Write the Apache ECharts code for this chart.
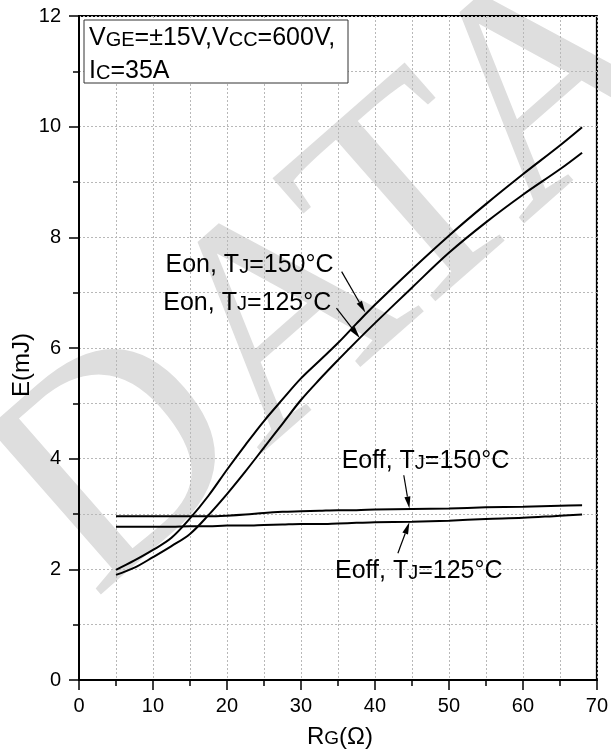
<!DOCTYPE html>
<html>
<head>
<meta charset="utf-8">
<script src="https://cdn.jsdelivr.net/npm/echarts@6/dist/echarts.min.js"></script>
<style>
  html, body { margin: 0; padding: 0; background: #fff; }
  #main { width: 611px; height: 752px; }
</style>
</head>
<body>
<div id="main"></div>
<script>
// Gate resistance RG (Ω)
const rg = [5, 7.5, 10, 12.5, 15, 17.5, 20, 22.5, 25, 27.5, 30, 32.5, 35, 37.5, 40, 45, 50, 55, 60, 65, 68];
// Switching energies (mJ)
const eon150 = [1.99, 2.16, 2.35, 2.57, 2.92, 3.33, 3.80, 4.25, 4.68, 5.07, 5.45, 5.77, 6.09, 6.44, 6.78, 7.42, 8.03, 8.60, 9.14, 9.66, 9.99];
const eon125 = [1.90, 2.03, 2.22, 2.42, 2.64, 2.98, 3.36, 3.77, 4.20, 4.63, 5.06, 5.43, 5.78, 6.12, 6.45, 7.09, 7.72, 8.27, 8.77, 9.23, 9.53];
const eoff150 = [2.96, 2.96, 2.96, 2.96, 2.96, 2.96, 2.97, 2.99, 3.02, 3.04, 3.05, 3.06, 3.07, 3.07, 3.08, 3.09, 3.10, 3.12, 3.13, 3.15, 3.16];
const eoff125 = [2.77, 2.77, 2.77, 2.77, 2.78, 2.78, 2.79, 2.79, 2.80, 2.81, 2.82, 2.82, 2.83, 2.84, 2.85, 2.86, 2.88, 2.91, 2.93, 2.97, 2.99];

// Axis ticks
const xTicks = [0, 10, 20, 30, 40, 50, 60, 70];
const yTicks = [0, 2, 4, 6, 8, 10, 12];

// Curve labels: [name, temperature]
const curveNames = ['Eon', 'Eon', 'Eoff', 'Eoff'];
const curveTemps = ['150', '125', '150', '125'];

const FONT = '"Liberation Sans", Arial, Helvetica, sans-serif';
const GRID_COLOR = '#b8b8b8';

const pairs = (ys) => rg.map((x, i) => [x, ys[i]]);

const chart = echarts.init(document.getElementById('main'), null, { renderer: 'canvas' });

const lineSeries = (name, ys) => ({
  name: name,
  type: 'line',
  data: pairs(ys),
  smooth: 0.35,
  symbol: 'none',
  lineStyle: { color: '#000', width: 2 },
  z: 5
});

chart.setOption({
  animation: false,
  backgroundColor: '#fff',
  grid: {
    left: 79, right: 11, top: 16, bottom: 72,
    show: true, borderColor: '#000', borderWidth: 2, backgroundColor: 'transparent'
  },
  xAxis: {
    type: 'value',
    min: xTicks[0], max: xTicks[xTicks.length - 1], interval: xTicks[1] - xTicks[0],
    axisLine: { lineStyle: { color: '#000', width: 2 } },
    axisTick: { length: 10, lineStyle: { color: '#000', width: 1.5 } },
    minorTick: { show: true, splitNumber: 2, length: 6, lineStyle: { color: '#000', width: 1.5 } },
    splitLine: { show: true, lineStyle: { color: GRID_COLOR, type: [2, 2], width: 1 } },
    minorSplitLine: { show: true, lineStyle: { color: GRID_COLOR, type: [2, 2], width: 1 } },
    axisLabel: { color: '#000', fontSize: 20, fontFamily: FONT, margin: 16 }
  },
  yAxis: {
    type: 'value',
    min: yTicks[0], max: yTicks[yTicks.length - 1], interval: yTicks[1] - yTicks[0],
    axisLine: { lineStyle: { color: '#000', width: 2 } },
    axisTick: { length: 10, lineStyle: { color: '#000', width: 1.5 } },
    minorTick: { show: true, splitNumber: 2, length: 6, lineStyle: { color: '#000', width: 1.5 } },
    splitLine: { show: true, lineStyle: { color: GRID_COLOR, type: [2, 2], width: 1 } },
    minorSplitLine: { show: true, lineStyle: { color: GRID_COLOR, type: [2, 2], width: 1 } },
    axisLabel: { color: '#000', fontSize: 20, fontFamily: FONT, margin: 18 }
  },
  series: [
    lineSeries('Eon 150', eon150),
    lineSeries('Eon 125', eon125),
    lineSeries('Eoff 150', eoff150),
    lineSeries('Eoff 125', eoff125)
  ]
});

// Annotation placement in data space: text anchor, arrow start and arrow tip
const notePlacement = [
  { at: [34.4, 7.50], align: 'right', from: [35.5, 7.38], to: [38.7, 6.64] },
  { at: [34.1, 6.82], align: 'right', from: [34.8, 6.72], to: [37.95, 6.18] },
  { at: [35.5, 3.95], align: 'left',  from: [43.9, 3.70], to: [44.66, 3.10] },
  { at: [34.6, 1.96], align: 'left',  from: [43.1, 2.29], to: [44.66, 2.85] }
];

// Rich styles: normal letters and small capitals sitting on the same baseline
const richStyles = (size) => {
  const small = Math.round(size * 0.78);
  const drop = Math.round((size - small) * 0.7);
  return {
    n: { fontSize: size, lineHeight: size, fontFamily: FONT, fill: '#000' },
    s: { fontSize: small, lineHeight: size, fontFamily: FONT, fill: '#000', padding: [drop, 0, 0, 0] }
  };
};

const toPx = (p) => chart.convertToPixel({ gridIndex: 0 }, p);

const graphics = [];

// Faint "DATA" watermark across the whole drawing
graphics.push({
  type: 'text',
  x: 338, y: 280,
  rotation: 0.72,
  z: -10,
  silent: true,
  style: {
    text: 'DATA',
    x: 0, y: 0,
    align: 'center', verticalAlign: 'middle',
    fontFamily: '"Liberation Serif", "DejaVu Serif", serif',
    fontSize: 305,
    fill: '#dedede'
  }
});

// Test-condition box
graphics.push({
  type: 'rect',
  z: 20,
  shape: { x: 84, y: 20, width: 264, height: 63 },
  style: { fill: '#fff', stroke: '#333', lineWidth: 1 }
});
graphics.push({
  type: 'text',
  z: 21,
  style: {
    x: 89, y: 38,
    text: '{n|V}{s|GE}{n|=\u00b115V,V}{s|CC}{n|=600V,}',
    rich: richStyles(25),
    align: 'left', verticalAlign: 'middle'
  }
});
graphics.push({
  type: 'text',
  z: 21,
  style: {
    x: 89, y: 71,
    text: '{n|I}{s|C}{n|=35A}',
    rich: richStyles(25),
    align: 'left', verticalAlign: 'middle'
  }
});

// Axis titles
graphics.push({
  type: 'text',
  z: 20,
  style: {
    x: 340, y: 737,
    text: '{n|R}{s|G}{n|(\u03a9)}',
    rich: richStyles(24),
    align: 'center', verticalAlign: 'middle'
  }
});
graphics.push({
  type: 'text',
  z: 20,
  x: 22, y: 365,
  rotation: Math.PI / 2,
  style: {
    x: 0, y: 0,
    text: 'E(mJ)',
    fontSize: 24, fontFamily: FONT, fill: '#000',
    align: 'center', verticalAlign: 'middle'
  }
});

// Curve labels and arrows
notePlacement.forEach((p, i) => {
  const at = toPx(p.at);
  graphics.push({
    type: 'text',
    z: 20,
    style: {
      x: at[0], y: at[1],
      text: '{n|' + curveNames[i] + ', T}{s|J}{n|=' + curveTemps[i] + '\u00b0C}',
      rich: richStyles(25),
      align: p.align, verticalAlign: 'middle'
    }
  });
  const a = toPx(p.from);
  const b = toPx(p.to);
  const dx = b[0] - a[0], dy = b[1] - a[1];
  const len = Math.sqrt(dx * dx + dy * dy);
  const ux = dx / len, uy = dy / len;
  const headLen = 12, headHalf = 3;
  const base = [b[0] - ux * headLen, b[1] - uy * headLen];
  graphics.push({
    type: 'line',
    z: 20,
    shape: { x1: a[0], y1: a[1], x2: base[0], y2: base[1] },
    style: { stroke: '#000', lineWidth: 1.2 }
  });
  graphics.push({
    type: 'polygon',
    z: 20,
    shape: {
      points: [
        b,
        [base[0] - uy * headHalf, base[1] + ux * headHalf],
        [base[0] + uy * headHalf, base[1] - ux * headHalf]
      ]
    },
    style: { fill: '#000' }
  });
});

chart.setOption({ graphic: graphics });
</script>
</body>
</html>
